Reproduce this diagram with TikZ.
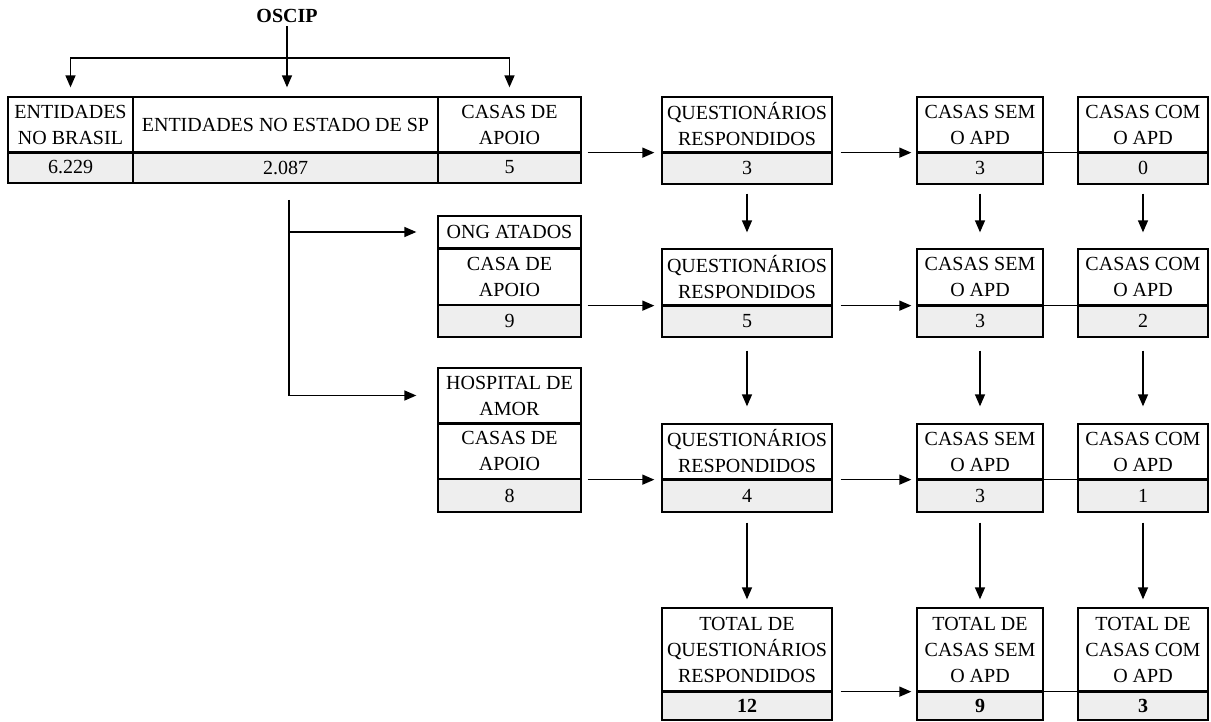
\documentclass[tikz,border=0pt]{standalone}
\usepackage{fontspec}
\setmainfont{Liberation Serif}
\usetikzlibrary{arrows.meta}
\definecolor{cell gray}{RGB}{238,238,238}
\tikzset{
  box/.style={draw, line width=1.3pt, inner sep=0pt, align=center, font=\fontsize{20}{26}\selectfont},
  head/.style={box}, value/.style={box, fill=cell gray}
  }
\tikzstyle{edge} = [draw, line width=1.4pt, -{Triangle[length=12pt,width=10pt]}]
\tikzstyle{sep line} = [draw, line width=3pt, -]
\tikzstyle{link} = [draw, line width=1pt, -]

\begin{document}
\begin{tikzpicture}[x=1pt, y=-1pt]
    \useasboundingbox (0,0) rectangle (1211,722);

    % cells: centre x / width / top / separator / bottom / name / header / value
    \foreach \x/\w/\yt/\ys/\yb/\name/\head/\val in {
        70.5/125/97/152/183/e1/{ENTIDADES\\NO BRASIL}/6.229,
        285.5/305/97/152/183/e2/{ENTIDADES NO ESTADO DE SP}/2.087,
        509.5/143/97/152/183/e3/{CASAS DE\\APOIO}/5,
        509.5/143/248/305/337/ong/{CASA DE\\APOIO}/9,
        509.5/143/423/479/512/hosp/{CASAS DE\\APOIO}/8,
        747/170/97/152/184/q1/{QUESTIONÁRIOS\\RESPONDIDOS}/3,
        980/126/97/152/184/s1/{CASAS SEM\\O APD}/3,
        1143/130/97/152/184/c1/{CASAS COM\\O APD}/0,
        747/170/249/305/337/q2/{QUESTIONÁRIOS\\RESPONDIDOS}/5,
        980/126/249/305/337/s2/{CASAS SEM\\O APD}/3,
        1143/130/249/305/337/c2/{CASAS COM\\O APD}/2,
        747/170/424/479/512/q3/{QUESTIONÁRIOS\\RESPONDIDOS}/4,
        980/126/424/479/512/s3/{CASAS SEM\\O APD}/3,
        1143/130/424/479/512/c3/{CASAS COM\\O APD}/1,
        747/170/608/691/720/q4/{TOTAL DE\\QUESTIONÁRIOS\\RESPONDIDOS}/\textbf{12},
        980/126/608/691/720/s4/{TOTAL DE\\CASAS SEM\\O APD}/\textbf{9},
        1143/130/608/691/720/c4/{TOTAL DE\\CASAS COM\\O APD}/\textbf{3}}
    {
      \node[value, minimum width=\w*1pt, minimum height={(\yb-\ys)*1pt}] (v\name) at (\x,{(\ys+\yb)/2}) {\val};
      \node[head, minimum width=\w*1pt, minimum height={(\ys-\yt)*1pt}] (h\name) at (\x,{(\yt+\ys)/2}) {\head};
    }

    \node[head, minimum width=143pt, minimum height=32pt] (tong) at (509.5,232) {ONG ATADOS};
    \node[head, minimum width=143pt, minimum height=55pt] (thosp) at (509.5,395.5) {HOSPITAL DE\\AMOR};

    \node[font=\fontsize{20}{24}\selectfont\bfseries] (oscip) at (287,16) {OSCIP};

    % thick lines under the headers
    \foreach \name in {e1, e2, e3, q1, s1, c1, q2, s2, c2, q3, s3, c3, q4, s4, c4}
      \path[sep line] (h\name.south west) -- (h\name.south east);
    \foreach \name in {tong, thosp}
      \path[sep line] (\name.south west) -- (\name.south east);

    \foreach \k in {1,2,3,4}
      \path[link] (hs\k.south east) -- (hc\k.south west);

    % OSCIP
    \coordinate (bus) at (287,58);
    \path[edge, shorten >=9pt] (oscip.south) -- (oscip.south |- he2.north);
    \path[edge, shorten >=9pt] (bus) -| (he1.north);
    \path[edge, shorten >=9pt] (bus) -| (he3.north);

    \coordinate (branch) at (289,200);
    \path[edge, shorten >=21pt] (branch |- tong.west) -- (tong.west);
    \path[edge, shorten >=21pt] (branch) |- (thosp.west);

    \foreach \source/\sink in {e3/q1, ong/q2, hosp/q3}
      \path[edge, shorten <=6pt, shorten >=7pt] (h\source.south east) -- (h\sink.south west);
    \foreach \source/\sink in {q1/s1, q2/s2, q3/s3, q4/s4}
      \path[edge, shorten <=8pt, shorten >=5pt] (h\source.south east) -- (h\sink.south west);

    \foreach \col in {q, s, c} {
      \path[edge, shorten <=9pt, shorten >=16pt] (v\col1.south) -- (h\col2.north);
      \path[edge, shorten <=13pt, shorten >=17pt] (v\col2.south) -- (h\col3.north);
      \path[edge, shorten <=10pt, shorten >=8pt] (v\col3.south) -- (h\col4.north);
    }

\end{tikzpicture}
\end{document}
